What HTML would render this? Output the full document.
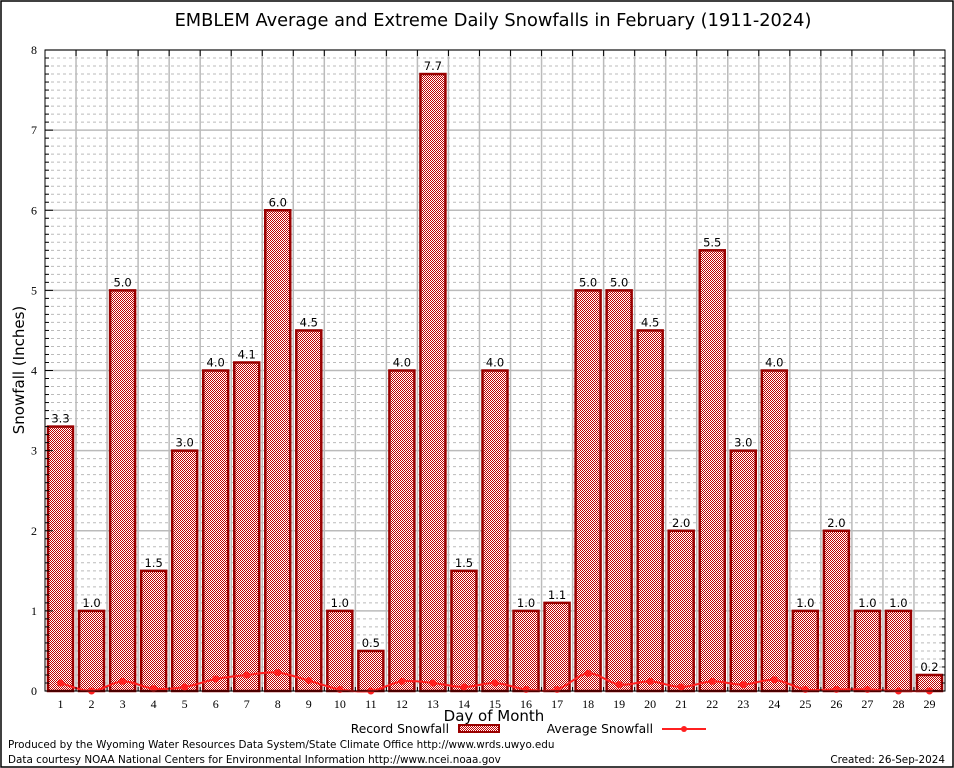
<!DOCTYPE html>
<html><head><meta charset="utf-8"><style>
html,body{margin:0;padding:0;background:#fff;}
svg{display:block;font-family:"DejaVu Sans","Liberation Sans",sans-serif;}
</style></head><body>
<svg id="chart" width="954" height="768" viewBox="0 0 954 768" xmlns="http://www.w3.org/2000/svg">
<defs>
<pattern id="chk" width="2" height="2" patternUnits="userSpaceOnUse">
<rect width="2" height="2" fill="#fff"/><rect width="1" height="1" fill="#c00000"/><rect x="1" y="1" width="1" height="1" fill="#c00000"/>
</pattern>
</defs>
<rect x="1" y="1" width="952" height="766" fill="#fff" stroke="#000" stroke-width="1.5"/>
<text x="493" y="26" font-size="17.8" text-anchor="middle">EMBLEM Average and Extreme Daily Snowfalls in February (1911-2024)</text>
<g id="grid"></g>
<g id="bars"></g>
<g id="avg"></g>
<g id="axes"></g>
<text x="24" y="370" font-size="15" text-anchor="middle" transform="rotate(-90 24 370)">Snowfall (Inches)</text>
<text x="494" y="721" font-size="15" text-anchor="middle">Day of Month</text>
<g>
<text x="449" y="733" font-size="12.3" text-anchor="end">Record Snowfall</text>
<rect x="459" y="725" width="40" height="7" fill="url(#chk)" stroke="#990000" stroke-width="2"/>
<text x="653" y="733" font-size="12.3" text-anchor="end">Average Snowfall</text>
<line x1="662" y1="729" x2="706" y2="729" stroke="#ff2020" stroke-width="2"/>
<circle cx="684" cy="729" r="3" fill="#ff2020"/>
</g>
<text x="8" y="748" font-size="10.4">Produced by the Wyoming Water Resources Data System/State Climate Office http://www.wrds.uwyo.edu</text>
<text x="8" y="763" font-size="10.4">Data courtesy NOAA National Centers for Environmental Information http://www.ncei.noaa.gov</text>
<text x="945" y="763" font-size="10.4" text-anchor="end">Created: 26-Sep-2024</text>
</svg>
<script>
const days = [1,2,3,4,5,6,7,8,9,10,11,12,13,14,15,16,17,18,19,20,21,22,23,24,25,26,27,28,29];
const recordValues = [3.3,1.0,5.0,1.5,3.0,4.0,4.1,6.0,4.5,1.0,0.5,4.0,7.7,1.5,4.0,1.0,1.1,5.0,5.0,4.5,2.0,5.5,3.0,4.0,1.0,2.0,1.0,1.0,0.2];
const averageValues = [0.1,0.0,0.12,0.03,0.05,0.15,0.2,0.23,0.13,0.02,0.0,0.12,0.1,0.05,0.1,0.02,0.02,0.22,0.08,0.12,0.05,0.12,0.08,0.14,0.02,0.02,0.02,0.0,0.0];
const yTicks = [0,1,2,3,4,5,6,7,8];

const NS = "http://www.w3.org/2000/svg";
const L = 45, R = 945, T = 50, B = 691, yMax = 8;
const slot = (R - L) / days.length;
const xc = d => L + (d - 0.5) * slot;
const y = v => B - v / yMax * (B - T);
function mk(tag, attrs, parent) {
  const e = document.createElementNS(NS, tag);
  for (const k in attrs) e.setAttribute(k, attrs[k]);
  parent.appendChild(e);
  return e;
}
const grid = document.getElementById('grid');
const bars = document.getElementById('bars');
const avg = document.getElementById('avg');
const axes = document.getElementById('axes');

for (let i = 1; i < yMax * 10; i++) {
  if (i % 10 === 0) continue;
  const ln = mk('line', {x1: L, x2: R, y1: y(i / 10), y2: y(i / 10), stroke: '#bbb', 'stroke-width': 1, 'stroke-dasharray': '3,3'}, grid);
  
  
  const tk = mk('line', {x1: L, x2: L + 4, y1: y(i / 10), y2: y(i / 10), stroke: '#000', 'stroke-width': 1}, axes);
  
  
  const tk2 = mk('line', {x1: R - 3, x2: R, y1: y(i / 10), y2: y(i / 10), stroke: '#000', 'stroke-width': 1}, axes);
  
  
}
yTicks.forEach(v => {
  const ln = mk('line', {x1: L, x2: R, y1: y(v), y2: y(v), stroke: '#bbb', 'stroke-width': 1.5}, grid);
  
  
  const tk = mk('line', {x1: L, x2: L + 8, y1: y(v), y2: y(v), stroke: '#000', 'stroke-width': 1}, axes);
  
  
  const t = mk('text', {x: 37, y: y(v) + 4, 'font-size': 12, 'text-anchor': 'end', 'font-family': 'Liberation Serif, serif'}, axes);
  t.textContent = v;
  
  
});
for (let k = 1; k < days.length; k++) {
  const gx = L + k * slot;
  const ln = mk('line', {x1: gx, x2: gx, y1: T, y2: B, stroke: '#bbb', 'stroke-width': 1.5}, grid);
  
  
  const tk = mk('line', {x1: gx, x2: gx, y1: T, y2: T + 6, stroke: '#000', 'stroke-width': 1}, axes);
  
  
  const tb = mk('line', {x1: gx, x2: gx, y1: B - 4, y2: B, stroke: '#000', 'stroke-width': 1}, axes);
  
  
}
days.forEach((d, i) => {
  const v = recordValues[i];
  const r = mk('rect', {x: xc(d) - 12.5, y: y(v), width: 25, height: B - y(v), fill: 'url(#chk)', stroke: '#990000', 'stroke-width': 2.5}, bars);
  
  
  const lb = mk('text', {x: xc(d), y: y(v) - 4, 'font-size': 11.5, 'text-anchor': 'middle'}, bars);
  lb.textContent = v.toFixed(1);
  
  
  const xl = mk('text', {x: xc(d), y: 708, 'font-size': 12, 'text-anchor': 'middle', 'font-family': 'Liberation Serif, serif'}, axes);
  xl.textContent = d;
  
  
});
const pts = days.map((d, i) => [xc(d), y(averageValues[i])]);
let dstr = 'M' + pts[0][0] + ',' + pts[0][1];
for (let i = 0; i < pts.length - 1; i++) {
  const p0 = pts[Math.max(0, i - 1)], p1 = pts[i], p2 = pts[i + 1], p3 = pts[Math.min(pts.length - 1, i + 2)];
  const c1x = p1[0] + (p2[0] - p0[0]) / 6, c1y = p1[1] + (p2[1] - p0[1]) / 6;
  const c2x = p2[0] - (p3[0] - p1[0]) / 6, c2y = p2[1] - (p3[1] - p1[1]) / 6;
  dstr += ' C' + c1x + ',' + c1y + ' ' + c2x + ',' + c2y + ' ' + p2[0] + ',' + p2[1];
}
const path = mk('path', {d: dstr, fill: 'none', stroke: '#ff2020', 'stroke-width': 2}, avg);


pts.forEach(p => {
  const c = mk('circle', {cx: p[0], cy: p[1], r: 3.5, fill: '#ff2020'}, avg);
  
  
});
const frame = mk('rect', {x: L, y: T, width: R - L, height: B - T, fill: 'none', stroke: '#000', 'stroke-width': 1}, axes);


</script>
</body></html>
